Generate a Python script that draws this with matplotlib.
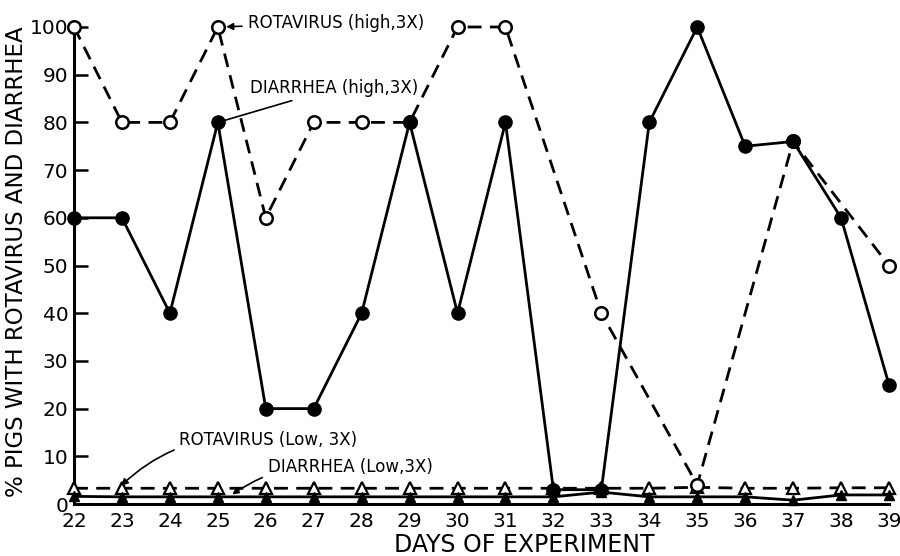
import numpy as np
from matplotlib import pyplot as plt

days = list(range(22, 40))

# rotavirus, high dose (open circles, dashed) - not every day sampled
rota_high_days = [22, 23, 24, 25, 26, 27, 28, 29, 30, 31, 33, 35, 37, 39]
rota_high = [100, 80, 80, 100, 60, 80, 80, 80, 100, 100, 40, 4, 76, 50]

# diarrhea, high dose (filled circles, solid)
diar_high = [60, 60, 40, 80, 20, 20, 40, 80, 40, 80, 3, 3, 80, 100, 75, 76, 60, 25]

# low dose series sit near the bottom
rota_low = [3.3, 3.3, 3.3, 3.3, 3.3, 3.3, 3.3, 3.3, 3.3, 3.3, 3.3, 3.3, 3.3, 3.5, 3.3, 3.3, 3.4, 3.4]
diar_low = [1.6, 1.5, 1.5, 1.5, 1.5, 1.5, 1.5, 1.5, 1.5, 1.5, 1.5, 2.5, 1.5, 1.5, 1.5, 0.8, 1.9, 1.9]

plt.rcParams['font.family'] = ['DejaVu Sans']

fig = plt.figure(figsize=(9, 5.56), dpi=100)
ax = fig.add_axes([74/900, 52/556, 815/900, 477/556])

lw = 2.0
dash = (0, (5, 3))
ax.plot(days, rota_low, ls=dash, color='black', lw=lw, marker='^', ms=8,
        mfc='white', mec='black', mew=1.6, clip_on=False, zorder=3)
ax.plot(days, diar_low, ls='-', color='black', lw=lw, marker='^', ms=7.5,
        mfc='black', mec='black', clip_on=False, zorder=3)
ax.plot(rota_high_days, rota_high, ls=dash, color='black', lw=lw, marker='o', ms=9,
        mfc='white', mec='black', mew=1.8, clip_on=False, zorder=4)
ax.plot(days, diar_high, ls='-', color='black', lw=lw, marker='o', ms=9.5,
        mfc='black', mec='black', clip_on=False, zorder=5)

ax.set_xlim(22, 39)
ax.set_ylim(0, 100)
ax.set_xticks(days)
ax.set_yticks(np.arange(0, 101, 10))
ax.tick_params(axis='y', direction='in', length=10, width=1.8, labelsize=14.5, pad=4)
ax.tick_params(axis='x', direction='in', length=0, labelsize=14.5, pad=6)

for s in ['top', 'right']:
    ax.spines[s].set_visible(False)
ax.spines['left'].set_linewidth(2.2)
ax.spines['bottom'].set_linewidth(2.2)

# axis titles placed like the original
fig.text(524/900, 1 - 545/556, 'DAYS OF EXPERIMENT', fontsize=17, ha='center', va='center')
fig.text(17/900, 1 - 262/556, '% PIGS WITH ROTAVIRUS AND DIARRHEA', fontsize=16.5,
         rotation=90, ha='center', va='center')

# labels with pointers
ax.annotate('ROTAVIRUS (high,3X)', xy=(25, 100), xytext=(25.62, 100.8),
            fontsize=12, va='center', ha='left', annotation_clip=False,
            arrowprops=dict(arrowstyle='-|>', color='black', lw=1.2, shrinkA=2, shrinkB=6,
                            mutation_scale=10))
ax.annotate('DIARRHEA (high,3X)', xy=(25, 80), xytext=(25.68, 87.2),
            fontsize=12, va='center', ha='left',
            arrowprops=dict(arrowstyle='-', color='black', lw=1.2, shrinkA=2, shrinkB=5))
ax.annotate('ROTAVIRUS (Low, 3X)', xy=(22.98, 3.8), xytext=(24.2, 13.4),
            fontsize=12, va='center', ha='left',
            arrowprops=dict(arrowstyle='-|>', color='black', lw=1.2, shrinkA=2, shrinkB=0,
                            mutation_scale=10, connectionstyle='arc3,rad=0.25'))
ax.annotate('DIARRHEA (Low,3X)', xy=(25.3, 2.0), xytext=(26.04, 7.75),
            fontsize=12, va='center', ha='left',
            arrowprops=dict(arrowstyle='-|>', color='black', lw=1.2, shrinkA=2, shrinkB=0,
                            mutation_scale=9, connectionstyle='arc3,rad=0.2'))

plt.savefig('out.png', dpi=100)
